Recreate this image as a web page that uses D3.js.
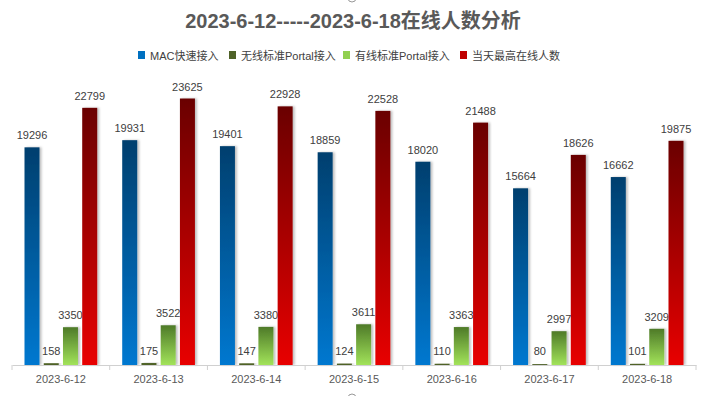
<!DOCTYPE html>
<meta charset="utf-8">
<style>
body { margin: 0; background: #fff; }
text { font-family: "Liberation Sans", "Noto Sans CJK SC", sans-serif; }
.lbl { font-size: 11px; fill: #404040; }
</style>
<body>
<script src="https://d3js.org/d3.v7.min.js"></script>
<script>
// chart data
var dates = ["2023-6-12", "2023-6-13", "2023-6-14", "2023-6-15", "2023-6-16", "2023-6-17", "2023-6-18"];
var seriesNames = ["MAC快速接入", "无线标准Portal接入", "有线标准Portal接入", "当天最高在线人数"];
var mac = [19296, 19931, 19401, 18859, 18020, 15664, 16662];
var wireless = [158, 175, 147, 124, 110, 80, 101];
var wired = [3350, 3522, 3380, 3611, 3363, 2997, 3209];
var peak = [22799, 23625, 22928, 22528, 21488, 18626, 19875];

var W = 705, H = 396;
var margin = { top: 83, right: 9, bottom: 31, left: 12 };
var width = W - margin.left - margin.right,
    height = H - margin.top - margin.bottom;

var svg = d3.select("body").append("svg")
    .attr("width", W).attr("height", H);

var defs = svg.append("defs");
function grad(id, top, bottom) {
    var g = defs.append("linearGradient").attr("id", id)
        .attr("x1", 0).attr("y1", 0).attr("x2", 0).attr("y2", 1);
    g.append("stop").attr("offset", "0%").attr("stop-color", top);
    g.append("stop").attr("offset", "100%").attr("stop-color", bottom);
}
grad("g0", "#003f6e", "#0078d0");
grad("g1", "#4f6228", "#4f6228");
grad("g2", "#4e7a28", "#a2e35a");
grad("g3", "#6a0000", "#e80000");

var f = defs.append("filter").attr("id", "sh")
    .attr("x", "-20%").attr("y", "-5%").attr("width", "160%").attr("height", "110%");
f.append("feDropShadow").attr("dx", 2).attr("dy", 0).attr("stdDeviation", 1.2)
    .attr("flood-color", "#000").attr("flood-opacity", 0.25);

// selection handles (top / bottom)
[-2, 398].forEach(function(cy) {
    svg.append("circle").attr("cx", 352).attr("cy", cy).attr("r", 4)
        .attr("fill", "#fff").attr("stroke", "#999");
});

// title
svg.append("text")
    .attr("x", 353).attr("y", 28)
    .attr("text-anchor", "middle")
    .style("font-size", "20px").style("font-weight", "bold").style("fill", "#595959")
    .text("2023-6-12-----2023-6-18在线人数分析");

// legend
var legendColors = ["#0070c0", "#4f6228", "#92d050", "#c00000"];
var legendX = [138, 229, 343, 460];
var legend = svg.append("g");
seriesNames.forEach(function(name, i) {
    var lx = legendX[i];
    legend.append("rect").attr("x", lx).attr("y", 51).attr("width", 7).attr("height", 8)
        .attr("fill", legendColors[i]);
    legend.append("text").attr("x", lx + 12).attr("y", 59.5)
        .style("font-size", "11px").style("fill", "#404040").text(name);
});

var g = svg.append("g")
    .attr("transform", "translate(" + margin.left + "," + margin.top + ")");

var x0 = d3.scaleBand().domain(dates).range([0, width]).paddingInner(0).paddingOuter(0);
var x1 = d3.scaleBand().domain([0, 1, 2, 3]).range([12.5, x0.bandwidth() - 12.5]).paddingInner(0.22);
var y = d3.scaleLinear().domain([0, 25000]).range([height, 0]);

var all = [mac, wireless, wired, peak];

dates.forEach(function(d, i) {
    var grp = g.append("g").attr("transform", "translate(" + x0(d) + ",0)");
    all.forEach(function(arr, s) {
        var v = arr[i];
        var top = y(v);
        grp.append("rect")
            .attr("x", x1(s)).attr("width", x1.bandwidth())
            .attr("y", top).attr("height", Math.max(height - top, 1.5))
            .attr("fill", "url(#g" + s + ")")
            .attr("filter", "url(#sh)");
        grp.append("text").attr("class", "lbl")
            .attr("x", x1(s) + x1.bandwidth() / 2)
            .attr("y", Math.min(top, height - 2) - 8)
            .attr("text-anchor", "middle")
            .text(v);
    });
});

// x axis
var axis = g.append("g").attr("transform", "translate(0," + height + ")")
    .call(d3.axisBottom(x0).tickSize(0).tickPadding(10));
axis.select(".domain").attr("stroke", "#d0d0d0");
axis.selectAll(".tick text").style("font-size", "11px").style("fill", "#595959")
    .style("font-family", "Liberation Sans, sans-serif");
g.append("g").selectAll("line")
    .data(dates.concat(["end"]))
    .join("line")
    .attr("x1", function(d, i) { return i * x0.step(); })
    .attr("x2", function(d, i) { return i * x0.step(); })
    .attr("y1", height).attr("y2", height + 5)
    .attr("stroke", "#d0d0d0");
</script>
</body>
